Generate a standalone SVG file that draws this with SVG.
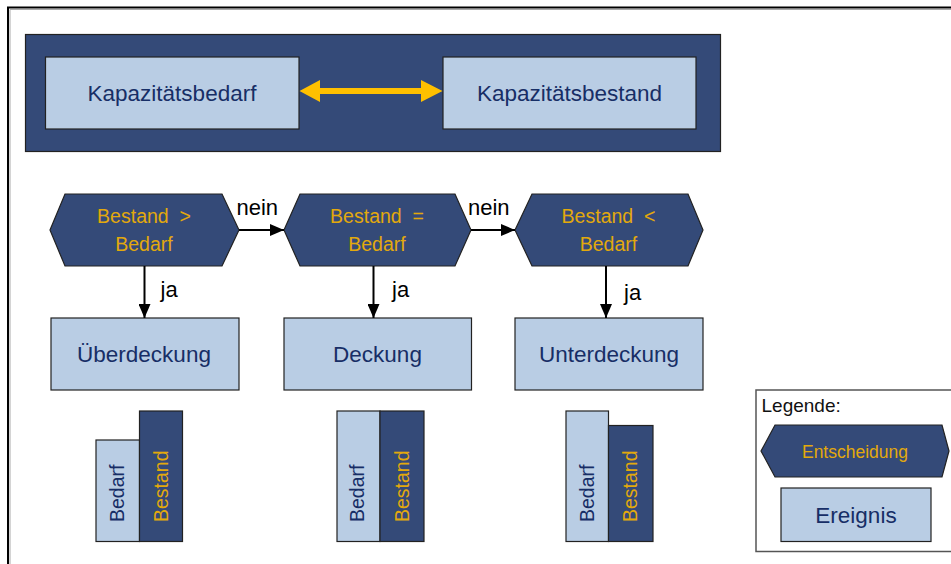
<svg xmlns="http://www.w3.org/2000/svg" width="951" height="564" viewBox="0 0 951 564">
<style>
text{font-family:"Liberation Sans",Arial,sans-serif}
.dark{fill:#344a78;stroke:#222;stroke-width:1.2}
.light{fill:#b9cde4;stroke:#222;stroke-width:1.2}
.ev{font-size:22.5px;fill:#172e66;text-anchor:middle}
.dec{font-size:19.5px;fill:#e3a90c;text-anchor:middle}
.lbl{font-size:22px;fill:#000}
.bar{font-size:19.5px}
.conn{stroke:#000;stroke-width:2;fill:none}
</style>
<defs>
<marker id="ah" markerWidth="14" markerHeight="12" refX="14" refY="6" orient="auto" markerUnits="userSpaceOnUse" viewBox="0 0 14 12">
<path d="M0,0 L14,6 L0,12 z" fill="#000"/>
</marker>
</defs>
<rect width="951" height="564" fill="#fff"/>
<g id="frame">
<path d="M8,564 V7.5 H951" fill="none" stroke="#000" stroke-width="2"/>
<path d="M10,564 V9.5 H951" fill="none" stroke="#aaa" stroke-width="1"/>
</g>
<g id="top-panel">
<rect x="25.5" y="34.5" width="695" height="117" class="dark"/>
</g>
<g id="kapazitaetsbedarf">
<rect x="45.5" y="57" width="253.5" height="72" class="light"/>
<text x="172" y="101" class="ev">Kapazitätsbedarf</text>
</g>
<g id="kapazitaetsbestand">
<rect x="443" y="57" width="253" height="72" class="light"/>
<text x="569.5" y="101" class="ev">Kapazitätsbestand</text>
</g>
<g id="entscheidung-groesser">
<polygon points="50,230 65,194 222,194 239,230 222,266 65,266" class="dark"/>
<text x="144" y="222.5" class="dec" xml:space="preserve">Bestand  &gt;</text>
<text x="144" y="250.5" class="dec">Bedarf</text>
</g>
<g id="entscheidung-gleich">
<polygon points="284,230 300,194 455,194 471,230 455,266 300,266" class="dark"/>
<text x="377" y="222.5" class="dec" xml:space="preserve">Bestand  =</text>
<text x="377" y="250.5" class="dec">Bedarf</text>
</g>
<g id="entscheidung-kleiner">
<polygon points="515,230 532,194 688,194 703,230 688,266 532,266" class="dark"/>
<text x="608.5" y="222.5" class="dec" xml:space="preserve">Bestand  &lt;</text>
<text x="608.5" y="250.5" class="dec">Bedarf</text>
</g>
<g id="ueberdeckung">
<rect x="51" y="318" width="188" height="72" class="light"/>
<text x="144" y="362" class="ev">Überdeckung</text>
</g>
<g id="deckung">
<rect x="284" y="318" width="187.5" height="72" class="light"/>
<text x="377.5" y="362" class="ev">Deckung</text>
</g>
<g id="unterdeckung">
<rect x="515" y="318" width="188" height="72" class="light"/>
<text x="609" y="362" class="ev">Unterdeckung</text>
</g>
<g id="connectors">
<path d="M299.5,91 L320,80 L320,88 L421,88 L421,80 L442.5,91 L421,102 L421,94 L320,94 L320,102 Z" fill="#ffc000"/>
<line x1="239" y1="230" x2="284" y2="230" class="conn" marker-end="url(#ah)"/>
<line x1="471" y1="230" x2="515" y2="230" class="conn" marker-end="url(#ah)"/>
<line x1="144.5" y1="266" x2="144.5" y2="318" class="conn" marker-end="url(#ah)"/>
<line x1="373.5" y1="266" x2="373.5" y2="318" class="conn" marker-end="url(#ah)"/>
<line x1="606" y1="266" x2="606" y2="318" class="conn" marker-end="url(#ah)"/>
<text x="236.5" y="215" class="lbl">nein</text>
<text x="468" y="215" class="lbl">nein</text>
<text x="160.5" y="297" class="lbl">ja</text>
<text x="392" y="297" class="lbl">ja</text>
<text x="624" y="300" class="lbl">ja</text>
</g>
<g id="balken-ueberdeckung">
<rect x="96" y="440" width="43.5" height="101.5" class="light"/>
<rect x="139.5" y="411" width="43" height="130.5" class="dark"/>
<text transform="translate(123.5,522) rotate(-90)" class="bar" fill="#172e66">Bedarf</text>
<text transform="translate(168,522) rotate(-90)" class="bar" fill="#e3a90c">Bestand</text>
</g>
<g id="balken-deckung">
<rect x="337" y="411" width="43" height="130.5" class="light"/>
<rect x="380" y="411" width="44" height="130.5" class="dark"/>
<text transform="translate(364,522) rotate(-90)" class="bar" fill="#172e66">Bedarf</text>
<text transform="translate(409,522) rotate(-90)" class="bar" fill="#e3a90c">Bestand</text>
</g>
<g id="balken-unterdeckung">
<rect x="566" y="411" width="42.5" height="130.5" class="light"/>
<rect x="608.5" y="425.5" width="44.5" height="116" class="dark"/>
<text transform="translate(594,522) rotate(-90)" class="bar" fill="#172e66">Bedarf</text>
<text transform="translate(636.5,522) rotate(-90)" class="bar" fill="#e3a90c">Bestand</text>
</g>
<g id="legende">
<rect x="756" y="390" width="210" height="161.5" fill="#fff" stroke="#555" stroke-width="1.5"/>
<text x="761.5" y="412" font-size="19" fill="#111">Legende:</text>
<polygon points="761,451 775,425 942,425 949,451 942,477 775,477" class="dark"/>
<text x="855" y="457.5" font-size="17.5" fill="#e3a90c" text-anchor="middle">Entscheidung</text>
<rect x="781" y="488" width="150" height="53.5" class="light"/>
<text x="856" y="522.5" class="ev">Ereignis</text>
</g>
</svg>
